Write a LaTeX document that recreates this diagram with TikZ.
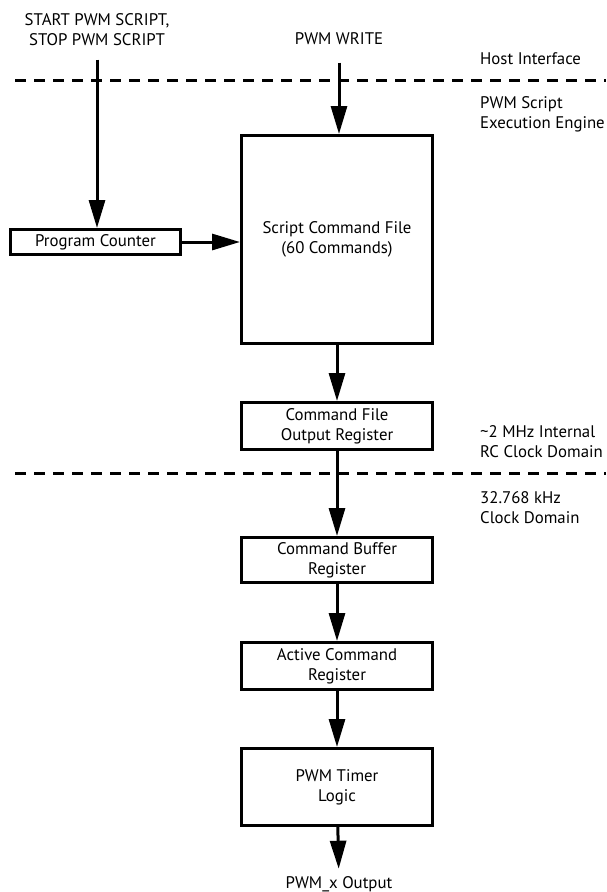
\documentclass[tikz,border=0pt]{standalone}
\usepackage{fontspec}
\setmainfont{PT Sans}
\usetikzlibrary{positioning,arrows.meta}

\begin{document}
\begin{tikzpicture}[x=1pt, y=1pt,
	every node/.style={font=\fontsize{16.8pt}{20pt}\selectfont},
	blk/.style={draw, line width=3pt, minimum width=191pt, inner sep=0pt, align=center},
	lbl/.style={align=left, anchor=west, inner sep=0pt},
	flow/.style={-{Triangle[length=28pt, width=16pt]}, line width=3pt},
	sep/.style={line width=3pt, dash pattern=on 11pt off 8pt}]

	\useasboundingbox (0,0) rectangle (606,-892);

	\node[blk, minimum height=208pt] (scf) at (337,-239.5) {Script Command File\\(60 Commands)};
	\node[blk, minimum width=170pt, minimum height=25pt] (pc) at (95.5,-242) {Program Counter};
	
	\node[blk, minimum height=47pt, below=56pt of scf] (cfor) {Command File\\Output Register};
	\node[blk, minimum height=45pt, below=85pt of cfor] (cbr) {Command Buffer\\Register};
	\node[blk, minimum height=47pt, below=57pt of cbr] (acr) {Active Command\\Register};
	\node[blk, minimum height=77pt, below=56pt of acr] (ptl) {PWM Timer\\Logic};
	
	\node[align=center] (start) at (97,-30) {START PWM SCRIPT,\\STOP PWM SCRIPT};
	\node (write) at (339,-39) {PWM WRITE};
	\node (out) at (339,-884) {PWM\_x Output};
	
	\draw[flow, shorten <=10pt] (start.south) -- (start.south |- pc.north);
	\draw[flow, shorten <=14pt] (write.south) -- (write.south |- scf.north);
	\draw[flow] (pc.east) -- (pc.east -| scf.west);
	\draw[flow] (scf) -- (cfor);
	\draw[flow] (cfor) -- (cbr);
	\draw[flow] (cbr) -- (acr);
	\draw[flow] (acr) -- (ptl);
	\draw[flow, shorten >=4pt] (ptl) -- (out);
	
	%%% Domains %%%
	
	\draw[sep] (15,-80) -- (606,-80);
	\draw[sep] (15,-473) -- (606,-473);
	
	\node[lbl] (host) at (480,-59) {Host Interface};
	\node[lbl] (engine) at (480,-114) {PWM Script\\Execution Engine};
	\node[lbl] (rc) at (480,-442) {\textasciitilde2 MHz Internal\\RC Clock Domain};
	\node[lbl] (khz) at (480,-508) {32.768 kHz\\Clock Domain};

\end{tikzpicture}
\end{document}
